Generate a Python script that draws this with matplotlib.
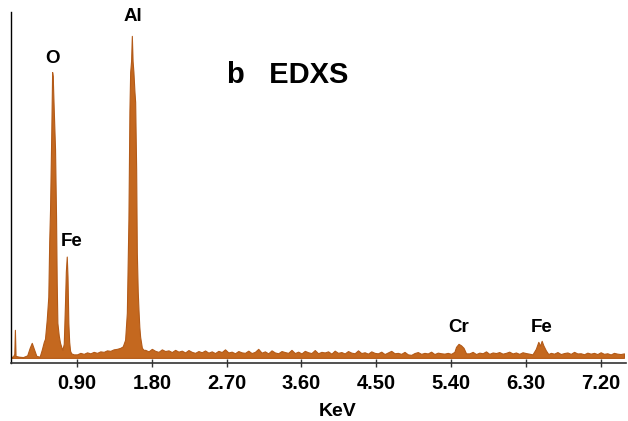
import numpy as np
import matplotlib
matplotlib.use('Agg')
import matplotlib.pyplot as plt

# low energy part with O, Fe-L and Al peaks (keV, counts)
low_energy = [0.11, 0.13, 0.145, 0.152, 0.16, 0.20, 0.25, 0.30, 0.33, 0.355, 0.38, 0.41, 0.45,
              0.475, 0.50, 0.514, 0.535, 0.554, 0.565, 0.575, 0.59, 0.600, 0.607, 0.62, 0.635,
              0.647, 0.655, 0.663, 0.68, 0.695, 0.71, 0.723, 0.74, 0.755, 0.765, 0.776, 0.785,
              0.795, 0.805, 0.816, 0.83, 0.86, 0.90, 0.94, 0.98, 1.02, 1.06, 1.10, 1.14, 1.18,
              1.22, 1.26, 1.30, 1.34, 1.38, 1.42, 1.45, 1.478, 1.499, 1.518, 1.53, 1.539, 1.55,
              1.559, 1.568, 1.578, 1.59, 1.599, 1.611, 1.619, 1.63, 1.639, 1.649, 1.659, 1.68, 1.70]
low_counts = [60, 65, 90, 330, 70, 62, 58, 75, 150, 200, 140, 70, 62,
              130, 210, 240, 430, 660, 1210, 1530, 2310, 2900, 2860, 2510, 2130,
              1460, 810, 400, 270, 200, 160, 130, 190, 600, 910, 1060, 860,
              400, 210, 120, 95, 85, 85, 100, 90, 105, 95, 110, 100, 115,
              110, 125, 120, 135, 140, 150, 165, 230, 500, 1430, 2510, 2900, 3010,
              3260, 3010, 2900, 2710, 2600, 1930, 1100, 710, 530, 360, 260, 150, 130]

# background channels, 0.04 keV apart
bg_step = 0.04
seg_a_start = 1.72
seg_a = [130, 115, 140, 120, 110, 135, 118, 125, 108, 130,
         112, 122, 104, 128, 110, 100, 118, 106, 124, 102,
         115, 98, 120, 108, 135, 104, 112, 96, 118, 105,
         100, 122, 98, 110, 140, 102, 115, 95, 125, 104,
         96, 118, 108, 100, 130, 98, 112, 94, 120, 106,
         98, 128, 96, 110, 104, 115, 92, 122, 100, 108,
         94, 118, 102, 96, 125, 98, 106, 92, 115, 100,
         95, 112, 88, 104, 120, 96, 100, 90, 110, 85,
         80, 98, 108, 90, 100, 94, 112, 88, 102, 96,
         92, 100]
cr_energy = [5.40, 5.44, 5.46, 5.49, 5.52, 5.55, 5.58]
cr_counts = [90, 110, 160, 190, 175, 150, 95]
seg_b_start = 5.62
seg_b = [95, 110, 88, 102, 96, 115, 90, 104, 98, 108, 92, 100, 112, 94, 104, 90, 106, 98, 92]
fe_energy = [6.38, 6.42, 6.45, 6.47, 6.49, 6.51, 6.54, 6.57]
fe_counts = [85, 140, 210, 170, 220, 175, 125, 88]
seg_c_start = 6.60
seg_c = [100, 92, 108, 88, 98, 104, 90, 110, 94, 96, 86, 102, 92, 100, 88, 106, 90, 96,
         84, 100, 92, 88, 95]

tick_vals = [0.90, 1.80, 2.70, 3.60, 4.50, 5.40, 6.30, 7.20]

peak_labels = ['O', 'Fe', 'Al', 'Cr', 'Fe']
label_x = [0.60, 0.84, 1.575, 5.49, 6.49]
label_y = [3030, 1210, 3450, 350, 350]

energy = np.concatenate([low_energy,
                         seg_a_start + bg_step * np.arange(len(seg_a)),
                         cr_energy,
                         seg_b_start + bg_step * np.arange(len(seg_b)),
                         fe_energy,
                         seg_c_start + bg_step * np.arange(len(seg_c))])
counts = np.concatenate([low_counts, seg_a, cr_counts, seg_b, fe_counts, seg_c])

color = '#C4681F'
fig = plt.figure(figsize=(6.28, 4.21), dpi=100)
ax = fig.add_axes([0.0175, 0.138, 0.98, 0.834])

ax.fill_between(energy, 50, counts, color=color, linewidth=0.8, edgecolor='#B35A18')

ax.set_xlim(0.105, 7.51)
ax.set_ylim(0, 3500)

for lab, x, y in zip(peak_labels, label_x, label_y):
    ax.text(x, y, lab, ha='center', va='center', fontsize=13.5, fontweight='bold',
            family='Liberation Sans')
ax.text(3.43, 2870, 'b   EDXS', ha='center', va='center', fontsize=21, fontweight='bold',
        family='Liberation Sans')

ax.set_xticks(tick_vals)
ax.set_xticklabels(['%.2f' % t for t in tick_vals], fontsize=14.5, fontweight='bold',
                   family='Liberation Sans')
ax.tick_params(axis='x', direction='inout', length=6, width=1, color='#333333', pad=5)
ax.set_yticks([])
ax.spines['top'].set_visible(False)
ax.spines['right'].set_visible(False)
ax.spines['bottom'].set_color('#333333')
ax.spines['bottom'].set_linewidth(1.2)
ax.spines['left'].set_linewidth(1.0)

ax.set_xlabel('KeV', fontsize=14, fontweight='bold', family='Liberation Sans')
ax.xaxis.set_label_coords(0.53, -0.115)

fig.savefig('out.png', dpi=100)
